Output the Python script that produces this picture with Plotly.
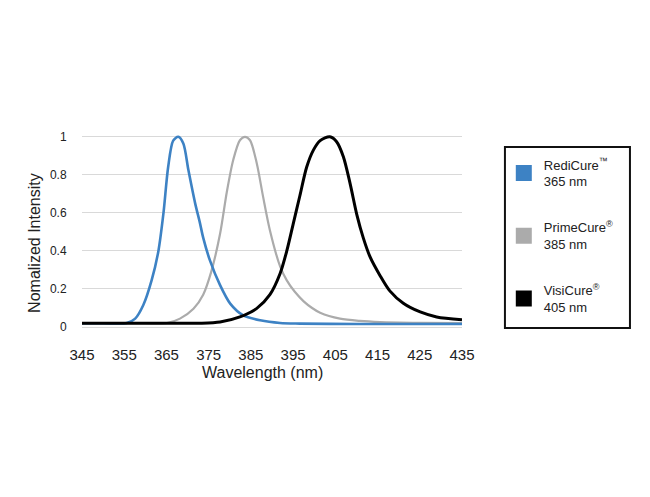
import plotly.graph_objects as go

# ---- data ----
blue_x = [345, 350, 355.6, 357.6, 359.5, 361.5, 363.1, 364.3, 365.4, 366.6, 367.8, 369.0, 370.2,
          371.8, 372.9, 373.7, 375.3, 377.7, 380.1, 383.2, 387.2, 391.9, 396.6, 410, 420, 435]
blue_y = [0.02, 0.02, 0.021, 0.044, 0.114, 0.246, 0.40, 0.60, 0.84, 0.98, 1.0, 0.965, 0.825,
          0.65, 0.55, 0.47, 0.35, 0.22, 0.123, 0.061, 0.035, 0.021, 0.018, 0.016, 0.016, 0.016]

gray_x = [345, 355, 360, 365.1, 368.2, 371.4, 373.7, 375.6, 377.7, 379.3, 380.8, 382.4, 383.6,
          384.8, 386.4, 387.9, 389.5, 391.9, 393.5, 395.4, 397.5, 399.5, 401.4, 406.1, 410.8,
          415.6, 425, 435]
gray_y = [0.02, 0.02, 0.02, 0.021, 0.044, 0.096, 0.17, 0.29, 0.49, 0.71, 0.877, 0.982, 1.0,
          0.982, 0.86, 0.684, 0.509, 0.32, 0.245, 0.185, 0.135, 0.10, 0.075, 0.044, 0.032,
          0.026, 0.022, 0.02]

black_x = [345, 355, 365, 372.9, 377.7, 382.4, 386.4, 389.5, 391.9, 393.5, 395.0, 396.6, 398.2,
           399.8, 401.4, 403.7, 405.3, 406.9, 408.5, 410.1, 411.6, 413.2, 415.6, 417.9, 421.1,
           425.1, 429.0, 435]
black_y = [0.02, 0.02, 0.02, 0.02, 0.026, 0.053, 0.098, 0.17, 0.28, 0.40, 0.54, 0.69, 0.84,
           0.93, 0.98, 1.0, 0.974, 0.895, 0.754, 0.59, 0.47, 0.37, 0.27, 0.19, 0.125,
           0.079, 0.053, 0.038]

series_names = ["RediCure<sup>™</sup><br>365 nm", "PrimeCure<sup>®</sup><br>385 nm", "VisiCure<sup>®</sup><br>405 nm"]
series_colors = ["#3d82c4", "#ababab", "#000000"]
x_ticks = [345, 355, 365, 375, 385, 395, 405, 415, 425, 435]
y_ticks = [0, 0.2, 0.4, 0.6, 0.8, 1]
y_ticklabels = ["0", "0.2", "0.4", "0.6", "0.8", "1"]
x_title = "Wavelength (nm)"
y_title = "Nomalized Intensity"

fig = go.Figure()

curves = [(gray_x, gray_y), (blue_x, blue_y), (black_x, black_y)]
order = [1, 0, 2]
widths = [2.6, 2.2, 3.0]
for idx, (cx, cy) in zip(order, curves):
    fig.add_trace(go.Scatter(x=cx, y=cy, mode="lines",
                             line=dict(color=series_colors[idx], width=widths[idx], shape="spline", smoothing=0.8),
                             showlegend=False, hoverinfo="skip"))

for i, (name, col) in enumerate(zip(series_names, series_colors)):
    fig.add_trace(go.Scatter(x=[None], y=[None], mode="markers", name=name,
                             marker=dict(symbol="square", size=18, color=col),
                             legendgroup=f"g{i}"))

font_family = "Liberation Sans, Arial, sans-serif"
fig.update_layout(
    width=650, height=497,
    margin=dict(l=82, r=188, t=133, b=170),
    paper_bgcolor="white", plot_bgcolor="white",
    font=dict(family=font_family, color="#222222"),
    showlegend=True,
    legend=dict(x=1.110, y=0.915, xanchor="left", yanchor="top",
                borderwidth=0, bgcolor="rgba(0,0,0,0)",
                font=dict(size=13, family=font_family, color="#222222"),
                tracegroupgap=26),
    shapes=[dict(type="rect", xref="paper", yref="paper", x0=1.113, x1=1.442, y0=-0.005, y1=0.928,
                 line=dict(color="#111111", width=2), fillcolor="rgba(0,0,0,0)", layer="below")],
    annotations=[
        dict(text=x_title, xref="paper", yref="paper", x=0.476, y=-0.232, showarrow=False,
             font=dict(size=16, color="#222222"), xanchor="center", yanchor="middle"),
        dict(text=y_title, xref="paper", yref="paper", x=-0.124, y=0.433, showarrow=False,
             textangle=-90, font=dict(size=16, color="#222222"), xanchor="center", yanchor="middle"),
    ],
    xaxis=dict(range=[345, 435], tickvals=x_ticks, ticktext=[str(v) for v in x_ticks],
               showgrid=False, zeroline=False, showline=False,
               ticks="outside", ticklen=14, tickcolor="rgba(0,0,0,0)",
               tickfont=dict(size=15, color="#222222")),
    yaxis=dict(range=[0, 1.02], tickvals=y_ticks, ticktext=y_ticklabels,
               showgrid=True, gridcolor="#d9d9d9", gridwidth=1,
               zeroline=True, zerolinecolor="#d9d9d9", zerolinewidth=1, showline=False,
               ticks="outside", ticklen=12, tickcolor="rgba(0,0,0,0)",
               tickfont=dict(size=12, color="#222222")),
)

fig.write_html("out.html")
